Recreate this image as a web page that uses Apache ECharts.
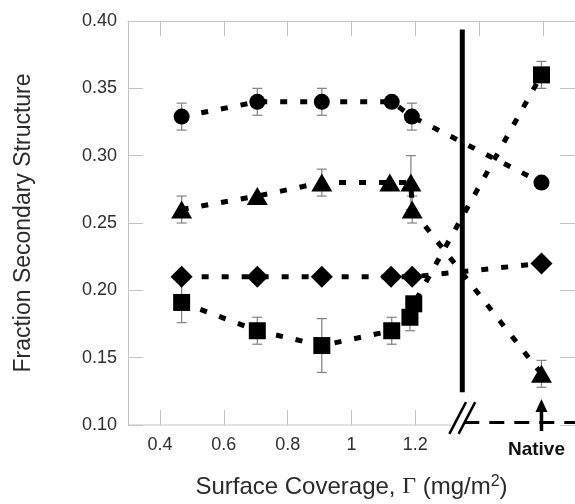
<!DOCTYPE html>
<html><head><meta charset="utf-8">
<script src="https://cdn.jsdelivr.net/npm/echarts@6/dist/echarts.min.js"></script>
<style>html,body{margin:0;padding:0;background:#fff}#c{width:575px;height:504px}</style>
</head><body><div id="c"></div>
<script>
// ---- data ----
const circleX = [0.468, 0.705, 0.907, 1.126, 1.189, 1.595];
const circleY = [0.329, 0.340, 0.340, 0.340, 0.329, 0.280];
const circleErr = [0.010, 0.010, 0.010, 0, 0.010, 0];

const triangleX = [0.468, 0.705, 0.907, 1.120, 1.186, 1.190, 1.595];
const triangleY = [0.260, 0.270, 0.280, 0.280, 0.280, 0.260, 0.138];
const triangleErr = [0.010, 0, 0.010, 0, 0.020, 0.010, 0.010];

const diamondX = [0.468, 0.705, 0.907, 1.124, 1.190, 1.595];
const diamondY = [0.210, 0.210, 0.210, 0.210, 0.210, 0.220];

const squareX = [0.468, 0.705, 0.907, 1.126, 1.183, 1.195, 1.595];
const squareY = [0.191, 0.170, 0.159, 0.170, 0.180, 0.190, 0.360];
const squareErr = [0.015, 0.010, 0.020, 0.010, 0.010, 0, 0.010];

const xTickLabels = [0.4, 0.6, 0.8, 1.0, 1.2];
const xTopTicks = [0.4, 0.6, 0.8, 1.0, 1.2, 1.4, 1.6];
const nativeX = 1.595;
const dividerX = 1.347;
const nativeLabel = 'Native';
const xTitle = 'Surface Coverage, {g|Γ} (mg/m{s|2})';
const yTitle = 'Fraction Secondary Structure';

// ---- build ----
const FONT = 'Liberation Sans, Arial, sans-serif';
const AX = '#c4c4c4';
const zip = (xs, ys) => xs.map((x, i) => [x, ys[i]]);
const zip3 = (xs, ys, es) => xs.map((x, i) => [x, ys[i], es[i]]);

function lineSeries(name, xs, ys, symbol, size) {
  return {
    name, type: 'line', data: zip(xs, ys), symbol, symbolSize: size,
    itemStyle: { color: '#000' }, z: 3,
    lineStyle: { color: '#000', width: 5, type: [7, 13], cap: 'butt' },
    silent: true
  };
}
function errSeries(xs, ys, es) {
  return {
    type: 'custom', data: zip3(xs, ys, es), z: 2, silent: true,
    renderItem(params, api) {
      const x = api.value(0), y = api.value(1), e = api.value(2);
      if (!e) return null;
      const t = api.coord([x, y + e]), b = api.coord([x, y - e]);
      const st = { stroke: '#808080', lineWidth: 1.2 };
      return { type: 'group', children: [
        { type: 'line', shape: { x1: t[0], y1: t[1], x2: b[0], y2: b[1] }, style: st },
        { type: 'line', shape: { x1: t[0] - 5, y1: t[1], x2: t[0] + 5, y2: t[1] }, style: st },
        { type: 'line', shape: { x1: b[0] - 5, y1: b[1], x2: b[0] + 5, y2: b[1] }, style: st }
      ]};
    }
  };
}

const option = {
  animation: false,
  backgroundColor: '#fff',
  grid: { left: 128, top: 21, width: 448, height: 405 },
  xAxis: [{
    type: 'value', position: 'bottom', min: 0.3, max: 1.7,
    axisLine: { show: false },
    splitLine: { show: false },
    axisTick: { inside: true, length: 15, lineStyle: { color: AX }, customValues: xTickLabels },
    axisLabel: { customValues: xTickLabels, margin: 11, color: '#2e2e2e', fontSize: 18, fontFamily: FONT,
      formatter: v => String(parseFloat(v.toFixed(2))) },
    name: xTitle, nameLocation: 'middle', nameGap: 49,
    nameTextStyle: { fontSize: 24, color: '#2a2a2a', fontFamily: FONT,
      rich: {
        g: { fontSize: 24, fontFamily: 'Liberation Serif, serif', color: '#2a2a2a' },
        s: { fontSize: 16, fontFamily: FONT, color: '#2a2a2a', verticalAlign: 'top', padding: [0, 0, 10, 0] }
      } }
  }, {
    type: 'value', position: 'top', min: 0.3, max: 1.7,
    axisLine: { show: true, lineStyle: { color: AX } },
    splitLine: { show: false },
    axisTick: { inside: true, length: 15, lineStyle: { color: AX }, customValues: xTopTicks },
    axisLabel: { show: false }
  }],
  yAxis: [{
    type: 'value', position: 'left', min: 0.1, max: 0.4, interval: 0.05,
    axisLine: { show: true, lineStyle: { color: AX } },
    splitLine: { show: false },
    axisTick: { inside: true, length: 15, lineStyle: { color: AX } },
    axisLabel: { margin: 11, color: '#2e2e2e', fontSize: 18, fontFamily: FONT, formatter: v => v.toFixed(2) },
    name: yTitle, nameLocation: 'middle', nameGap: 93, nameRotate: 90,
    nameTextStyle: { fontSize: 23, color: '#2a2a2a', fontFamily: FONT }
  }, {
    type: 'value', position: 'right', min: 0.1, max: 0.4, interval: 0.05,
    axisLine: { show: true, lineStyle: { color: AX } },
    splitLine: { show: false },
    axisTick: { inside: true, length: 15, lineStyle: { color: AX } },
    axisLabel: { show: false }
  }],
  series: [
    errSeries(squareX, squareY, squareErr),
    errSeries(triangleX, triangleY, triangleErr),
    errSeries(circleX, circleY, circleErr),
    lineSeries('square', squareX, squareY, 'rect', 17),
    lineSeries('diamond', diamondX, diamondY, 'diamond', 22),
    lineSeries('triangle', triangleX, triangleY, 'triangle', [21, 18]),
    lineSeries('circle', circleX, circleY, 'circle', 16)
  ]
};

const chart = echarts.init(document.getElementById('c'), null, { renderer: 'canvas' });
chart.setOption(option);

// ---- decorations positioned through the axes ----
const P = (x, y) => chart.convertToPixel({ xAxisIndex: 0, yAxisIndex: 0 }, [x, y]);
const origin = P(0.3, 0.1);
const axisY = origin[1];
const divTop = P(dividerX, 0.3937), divBot = P(dividerX, 0.1244);
const dx = divTop[0];
const right = P(1.7, 0.1)[0];
const nx = P(nativeX, 0.1)[0];
const g = [];
g.push({ type: 'line', shape: { x1: origin[0], y1: axisY, x2: dx - 11, y2: axisY }, style: { stroke: AX, lineWidth: 1 } });
g.push({ type: 'line', shape: { x1: dx, y1: divTop[1], x2: dx, y2: divBot[1] }, style: { stroke: '#000', lineWidth: 5 } });
[-4.6, 4.6].forEach(o => {
  const cx = dx + o, cy = axisY - 7;
  g.push({ type: 'line', shape: { x1: cx - 8.3, y1: cy + 15.8, x2: cx + 8.3, y2: cy - 15.8 }, style: { stroke: '#000', lineWidth: 2.5 } });
});
g.push({ type: 'line', shape: { x1: dx + 2, y1: axisY - 2.5, x2: right + 5, y2: axisY - 2.5 }, style: { stroke: '#000', lineWidth: 3, lineDash: [15, 10] } });
g.push({ type: 'line', shape: { x1: nx, y1: axisY + 6, x2: nx, y2: axisY - 14 }, style: { stroke: '#000', lineWidth: 3.5 } });
g.push({ type: 'polygon', shape: { points: [[nx, axisY - 26], [nx - 6, axisY - 13], [nx + 6, axisY - 13]] }, style: { fill: '#000' } });
g.push({ type: 'text', x: nx - 5, y: axisY + 25, style: { text: nativeLabel, fontSize: 19, fontWeight: 'bold', fontFamily: FONT, fill: '#111', align: 'center', verticalAlign: 'middle' } });
chart.setOption({ graphic: g });
</script>
</body></html>
